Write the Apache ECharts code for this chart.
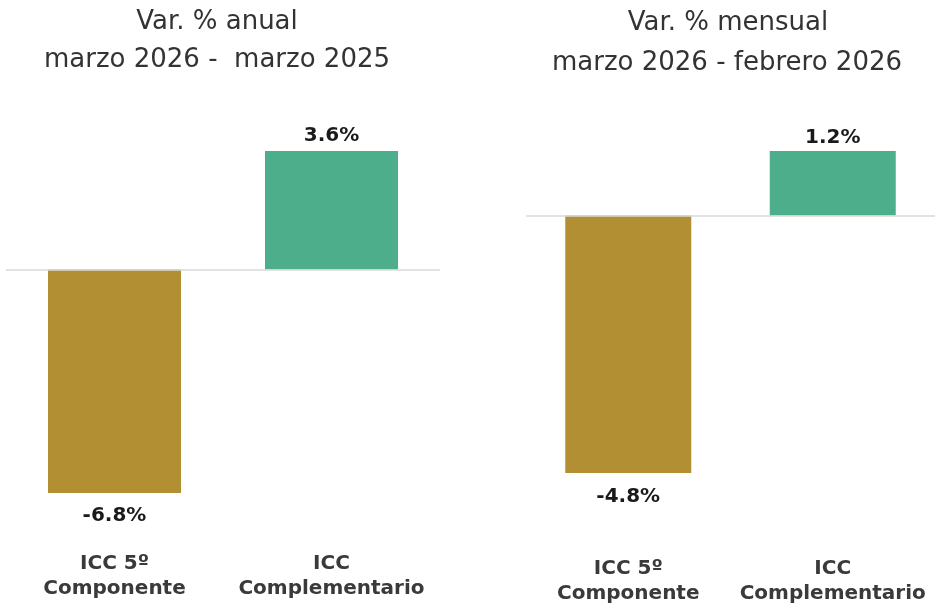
<!DOCTYPE html>
<html>
<head>
<meta charset="utf-8">
<script src="https://cdn.jsdelivr.net/npm/echarts@6/dist/echarts.min.js"></script>
<style>
html,body{margin:0;padding:0;background:#fff;}
#c{width:935px;height:606px;}
</style>
</head>
<body>
<div id="c"></div>
<script>
var categories = ["ICC 5º\nComponente", "ICC\nComplementario"];
var annualValues = [-6.8, 3.6];
var monthlyValues = [-4.8, 1.2];
var barColors = ["#B38F33", "#4DAE8B"];
var titleAnnual = ["Var. % anual", "marzo 2026 -  marzo 2025"];
var titleMonthly = ["Var. % mensual", "marzo 2026 - febrero 2026"];

var chart = echarts.init(document.getElementById('c'));
var FONT = '"DejaVu Sans", sans-serif';

function titleText(txt, x, y) {
  return {
    type: 'text', x: x, y: y, silent: true,
    style: { text: txt, font: '26px ' + FONT, fill: '#333333', align: 'center', verticalAlign: 'middle' }
  };
}

function makeSeries(values, idx, dTop, dBottom) {
  return {
    type: 'bar',
    xAxisIndex: idx, yAxisIndex: idx,
    barWidth: idx === 0 ? 133 : 126,
    data: values.map(function (v, i) {
      return {
        value: v,
        itemStyle: { color: barColors[i] },
        label: { position: v < 0 ? 'bottom' : 'top', distance: v < 0 ? dBottom : dTop }
      };
    }),
    label: {
      show: true,
      formatter: function (p) { return p.value.toFixed(1) + '%'; },
      fontFamily: FONT, fontWeight: 'bold', fontSize: 20, color: '#1a1a1a'
    },
    markLine: {
      silent: true, symbol: 'none',
      label: { show: false },
      lineStyle: { color: '#d9d9d9', width: 1.5, type: 'solid' },
      data: [{ yAxis: 0 }]
    }
  };
}

var option = {
  animation: false,
  backgroundColor: '#ffffff',
  graphic: [
    titleText(titleAnnual[0], 217, 22),
    titleText(titleAnnual[1], 217, 60),
    titleText(titleMonthly[0], 728, 23),
    titleText(titleMonthly[1], 727, 63)
  ],
  grid: [
    { left: 6, top: 151, width: 434, height: 342 },
    { left: 526, top: 151, width: 414, height: 322 }
  ],
  xAxis: [0, 1].map(function (i) {
    return {
      type: 'category', gridIndex: i, data: categories,
      axisLine: { show: false, onZero: false }, axisTick: { show: false },
      axisLabel: {
        margin: i === 0 ? 58 : 83,
        fontFamily: FONT, fontWeight: 'bold', fontSize: 20, color: '#3a3a3a',
        lineHeight: 25, interval: 0
      }
    };
  }),
  yAxis: [
    { type: 'value', gridIndex: 0, min: -6.8, max: 3.6, show: false, splitLine: { show: false } },
    { type: 'value', gridIndex: 1, min: -4.8, max: 1.2, show: false, splitLine: { show: false } }
  ],
  series: [
    makeSeries(annualValues, 0, 5, 13),
    makeSeries(monthlyValues, 1, 3, 14)
  ]
};
chart.setOption(option);
</script>
</body>
</html>
